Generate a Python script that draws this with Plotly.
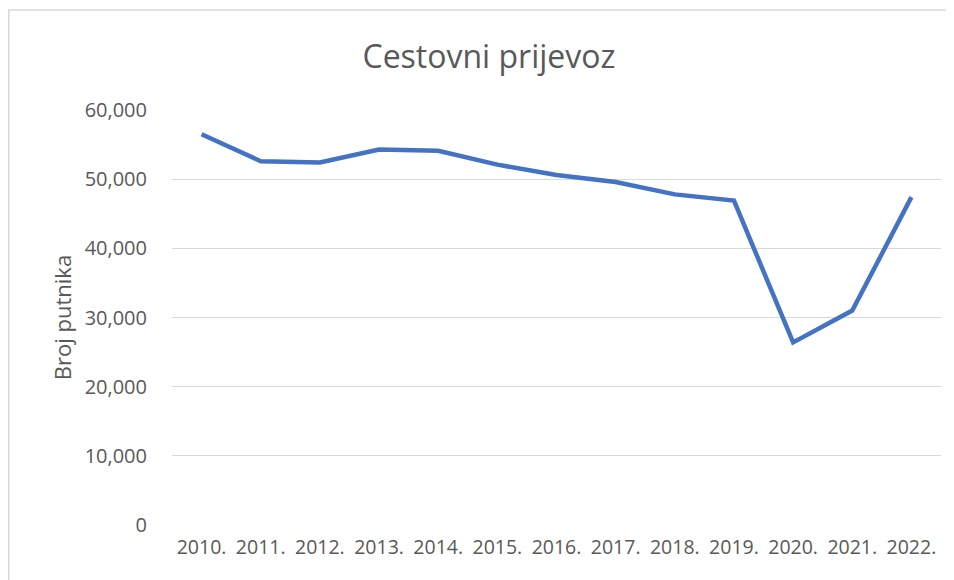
import plotly.graph_objects as go

years = ["2010.", "2011.", "2012.", "2013.", "2014.", "2015.", "2016.",
         "2017.", "2018.", "2019.", "2020.", "2021.", "2022."]
passengers = [56500, 52600, 52400, 54300, 54100, 52100, 50600,
              49600, 47800, 46900, 26400, 31000, 47400]
y_ticks = [0, 10000, 20000, 30000, 40000, 50000, 60000]

# page is rendered with an 8px body margin
OFF = 8
W, H = 954 - OFF, 580 - OFF
L, T = 172 - OFF, 110 - OFF
pw, ph = 769, 415
R = W - L - pw
B = H - T - ph

fig = go.Figure()
fig.add_trace(go.Scatter(
    x=years, y=passengers, mode="lines",
    line=dict(color="#4472C4", width=4.5),
    hoverinfo="x+y", showlegend=False,
))

def px_to_paper_x(px):
    return (px - OFF - L) / pw

def px_to_paper_y(py):
    return (T + ph - (py - OFF)) / ph

fig.add_shape(type="rect", xref="paper", yref="paper",
              x0=px_to_paper_x(OFF + 0.75), x1=px_to_paper_x(970),
              y0=px_to_paper_y(600), y1=px_to_paper_y(10),
              line=dict(color="#D9D9D9", width=1.5), fillcolor="rgba(0,0,0,0)",
              layer="below")

fig.update_layout(
    width=W, height=H,
    margin=dict(l=L, r=R, t=T, b=B),
    paper_bgcolor="white", plot_bgcolor="white",
    font=dict(family="Open Sans", color="#595959", size=20),
    title=dict(text="Cestovni prijevoz", x=(489 - OFF) / W, xanchor="center",
               y=1 - (57 - OFF) / H, yanchor="middle",
               font=dict(size=32, color="#595959", family="Open Sans")),
    xaxis=dict(type="category", range=[-0.5, 12.5], showgrid=False,
               showline=False, ticks="", tickfont=dict(size=19.5),
               ticklabelstandoff=8),
    yaxis=dict(range=[0, 60000], tickvals=y_ticks, tickformat=",d",
               showgrid=True, gridcolor="#D9D9D9", gridwidth=1,
               zeroline=False, showline=False, ticks="",
               tickfont=dict(size=20), ticklabelstandoff=24,
               title=dict(text="Broj putnika", font=dict(size=22), standoff=6)),
)

fig.write_html("out.html")
